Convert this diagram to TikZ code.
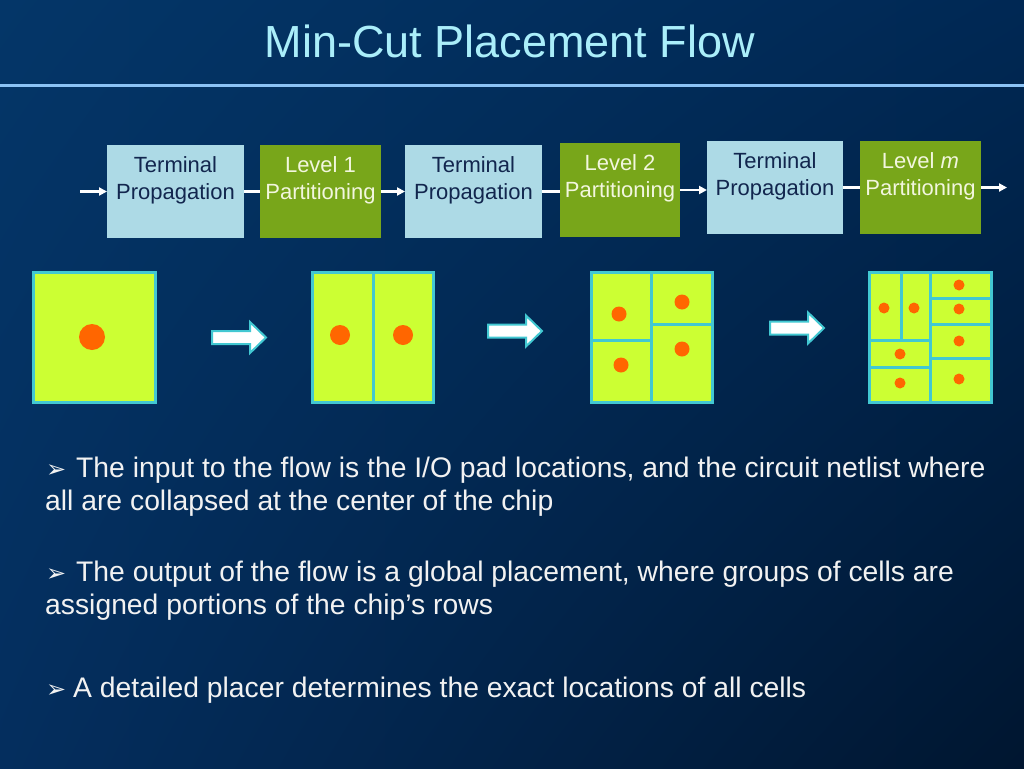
\documentclass[tikz,border=0pt]{standalone}
\usepackage{fontspec}
\setmainfont{Liberation Sans}
\newfontfamily\dejavu{DejaVu Sans}
\usetikzlibrary{arrows.meta,shadings}
\definecolor{bgA}{RGB}{4,54,104}
\definecolor{bgB}{RGB}{0,40,84}
\definecolor{bgC}{RGB}{4,46,94}
\definecolor{bgD}{RGB}{0,22,48}
\definecolor{titlec}{RGB}{170,238,250}
\definecolor{rulec}{RGB}{140,195,245}
\definecolor{tpfill}{RGB}{173,218,230}
\definecolor{tptext}{RGB}{18,38,78}
\definecolor{lvfill}{RGB}{120,166,26}
\definecolor{lvtext}{RGB}{242,246,222}
\definecolor{chipfill}{RGB}{204,255,51}
\definecolor{chipline}{RGB}{66,200,210}
\definecolor{cellc}{RGB}{255,102,0}
\definecolor{bodytext}{RGB}{242,242,242}
\begin{document}
\begin{tikzpicture}[x=1pt,y=-1pt,
  tpbox/.style={fill=tpfill, draw=none, anchor=north west, inner sep=0pt, outer sep=0pt},
  lvbox/.style={fill=lvfill, draw=none, anchor=north west, inner sep=0pt, outer sep=0pt},
  boxtext/.style={anchor=north, align=center, inner sep=0pt, font=\fontsize{22}{27}\selectfont},
  flowline/.style={draw=white, line width=2.5pt},
  flowarrow/.style={flowline, -{Triangle[length=8pt,width=8pt]}},
  chip/.style={fill=chipfill, draw=chipline, line width=3pt},
  divider/.style={draw=chipline, line width=3pt},
  cell/.style={fill=cellc},
  blockarrow/.style={fill=white, draw=chipline, line width=2pt, line join=miter},
  barrow/.pic={\draw[blockarrow] (0,-6.5) -- (38,-6.5) -- (38,-15.5) -- (54,0) -- (38,15.5) -- (38,6.5) -- (0,6.5) -- cycle;},
  bodyline/.style={anchor=base west, inner sep=0pt, text=bodytext, font=\fontsize{28.3}{34}\selectfont},
  bullet/.style={anchor=base west, inner sep=0pt, text=bodytext, font=\dejavu\fontsize{24}{28}\selectfont}
]
\useasboundingbox (0,0) rectangle (1024,768);
\shade[upper left=bgA, upper right=bgB, lower left=bgC, lower right=bgD] (0,0) rectangle (1024,768);

% title
\node[anchor=base, inner sep=0pt, text=titlec, font=\fontsize{45}{54}\selectfont] (title) at (510,58) {Min-Cut Placement Flow};
\draw[rulec, line width=3pt] (0,85) -- (1024,85);

% flow boxes
\node[tpbox, minimum width=137pt, minimum height=93pt] (b1) at (107,145) {};
\node[lvbox, minimum width=121pt, minimum height=93pt] (b2) at (260,145) {};
\node[tpbox, minimum width=137pt, minimum height=93pt] (b3) at (405,145) {};
\node[lvbox, minimum width=120pt, minimum height=94pt] (b4) at (560,143) {};
\node[tpbox, minimum width=136pt, minimum height=93pt] (b5) at (707,141) {};
\node[lvbox, minimum width=121pt, minimum height=93pt] (b6) at (860,141) {};

\node[boxtext, text=tptext] (t1) at ([yshift=-11pt]b1.north) {Terminal\\Propagation};
\node[boxtext, text=lvtext] (t2) at ([yshift=-11pt]b2.north) {Level 1\\Partitioning};
\node[boxtext, text=tptext] (t3) at ([yshift=-11pt]b3.north) {Terminal\\Propagation};
\node[boxtext, text=lvtext] (t4) at ([yshift=-11pt]b4.north) {Level 2\\Partitioning};
\node[boxtext, text=tptext] (t5) at ([yshift=-11pt]b5.north) {Terminal\\Propagation};
\node[boxtext, text=lvtext] (t6) at ([yshift=-11pt]b6.north) {Level \textit{m}\\Partitioning};

\coordinate (fin) at (80,191.5);
\coordinate (fout) at (1007,186);
\draw[flowarrow] (fin) -- (b1.west);
\draw[flowline] (b1.east) -- (b2.west);
\draw[flowarrow] (b2.east) -- (b3.west);
\draw[flowline] (b3.east) -- (b3.east -| b4.west);
\draw[flowarrow] (b4.east) -- (b4.east -| b5.west);
\draw[flowline] (b5.east) -- (b6.west);
\draw[flowarrow] (b6.east) -- (b6.east -| fout);

% chip 1
\draw[chip] (33,272) rectangle (155,402);
\fill[cell] (92,337) circle (13pt);

% chip 2
\draw[chip] (312,272) rectangle (433,402);
\draw[divider] (373,272) -- (373,402);
\fill[cell] (340,335) circle (10pt);
\fill[cell] (403,335) circle (10pt);

% chip 3
\draw[chip] (591,272) rectangle (712,402);
\draw[divider] (651,272) -- (651,402);
\draw[divider] (591,340) -- (651,340);
\draw[divider] (651,324) -- (712,324);
\fill[cell] (619,314) circle (7.5pt);
\fill[cell] (621,365) circle (7.5pt);
\fill[cell] (682,302) circle (7.5pt);
\fill[cell] (682,349) circle (7.5pt);

% chip 4
\draw[chip] (869,272) rectangle (991,402);
\draw[divider] (930,272) -- (930,402);
\draw[divider] (901,272) -- (901,340);
\draw[divider] (869,340) -- (930,340);
\draw[divider] (869,367) -- (930,367);
\draw[divider] (930,298) -- (991,298);
\draw[divider] (930,324) -- (991,324);
\draw[divider] (930,358) -- (991,358);
\foreach \p in {(884,308),(914,308),(900,354),(900,383),(959,285),(959,309),(959,341),(959,379)}
  \fill[cell] \p circle (5.5pt);

% block arrows
\pic at (212,337.5) {barrow};
\pic at (488,331) {barrow};
\pic at (770,328) {barrow};

% bullets
\node[bullet] (k1) at (46,477) {➢};
\node[bodyline] (l1) at (76,477) {The input to the flow is the I/O pad locations, and the circuit netlist where};
\node[bodyline] (l2) at (45,510) {all are collapsed at the center of the chip};
\node[bullet] (k2) at (46,581) {➢};
\node[bodyline] (l3) at (76,581) {The output of the flow is a global placement, where groups of cells are};
\node[bodyline] (l4) at (45,614) {assigned portions of the chip’s rows};
\node[bullet] (k3) at (46,697) {➢};
\node[bodyline] (l5) at (73,697) {A detailed placer determines the exact locations of all cells};
\end{tikzpicture}
\end{document}
